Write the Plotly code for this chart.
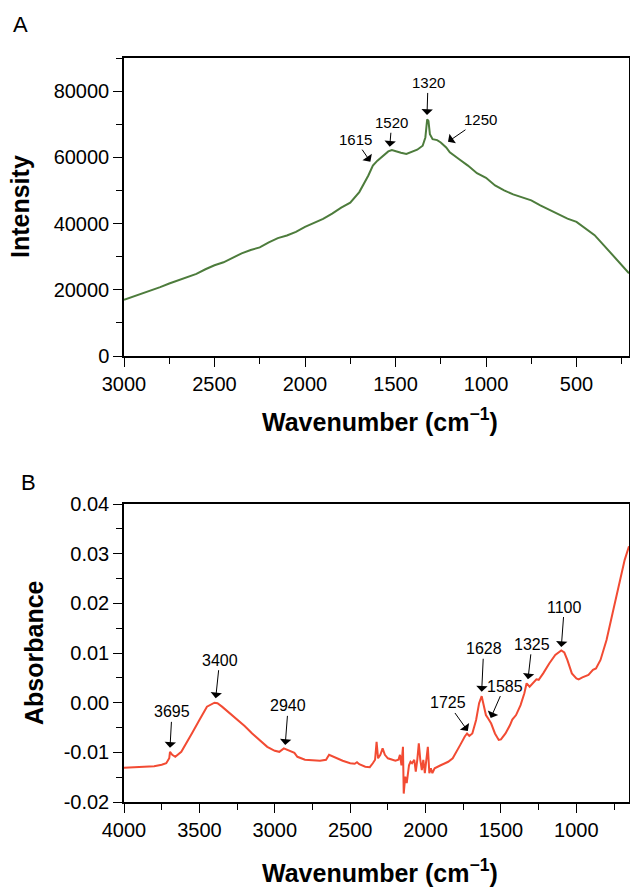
import plotly.graph_objects as go

# ---------------- Panel A: Raman ----------------
raman_wn = [3000, 2950, 2900, 2850, 2800, 2750, 2700, 2650, 2600, 2550, 2500, 2450, 2400,
            2350, 2300, 2250, 2200, 2150, 2100, 2050, 2000, 1950, 1900, 1850, 1800, 1750,
            1700, 1650, 1625, 1600, 1570, 1540, 1520, 1500, 1470, 1440, 1410, 1380, 1350,
            1335, 1325, 1318, 1310, 1295, 1270, 1250, 1220, 1200, 1150, 1100, 1050, 1000,
            950, 900, 850, 800, 750, 700, 650, 600, 550, 500, 450, 400, 350, 300, 250, 210]
raman_int = [17000, 17900, 18900, 19800, 20800, 21900, 22800, 23700, 24800, 26200, 27400,
             28300, 29600, 31000, 32000, 32800, 34300, 35600, 36400, 37500, 39000, 40200,
             41400, 43000, 44800, 46300, 49500, 54500, 57500, 59000, 60500, 61800, 62200,
             61800, 61400, 61000, 61600, 62300, 63500, 66000, 71500, 71000, 67000, 65500,
             65200, 64500, 63000, 61500, 59500, 57500, 55200, 53800, 51500, 50000, 48800,
             47800, 47000, 45500, 44200, 42800, 41500, 40500, 38500, 36500, 33500, 30500,
             27500, 25000]
raman_peak_labels = ["1615", "1520", "1320", "1250"]
raman_peak_x = [1639, 1532, 1326, 1210]
raman_peak_y = [58700, 63200, 72800, 64700]
raman_yticks = [0, 20000, 40000, 60000, 80000]
raman_xticks = [3000, 2500, 2000, 1500, 1000, 500]

# ---------------- Panel B: FTIR ----------------
ftir_wn = [4000, 3800, 3750, 3720, 3700, 3695, 3680, 3660, 3620, 3600, 3550, 3500, 3450,
           3400, 3380, 3350, 3300, 3250, 3220, 3200, 3150, 3100, 3050, 3000, 2970, 2940,
           2900, 2870, 2850, 2800, 2700, 2660, 2640, 2610, 2550, 2500, 2470, 2455, 2440,
           2400, 2370, 2350, 2335, 2325, 2315, 2300, 2285, 2270, 2250, 2230, 2200, 2180,
           2170, 2160, 2150, 2145, 2135, 2125, 2110, 2100, 2090, 2075, 2065, 2055, 2045,
           2035, 2025, 2015, 2005, 1995, 1985, 1975, 1965, 1955, 1940, 1900, 1850, 1820,
           1800, 1770, 1740, 1725, 1710, 1690, 1665, 1645, 1628, 1615, 1600, 1585, 1565,
           1540, 1515, 1500, 1470, 1440, 1425, 1400, 1370, 1345, 1330, 1310, 1290, 1265,
           1250, 1220, 1180, 1140, 1100, 1080, 1060, 1030, 1000, 985, 960, 920, 890, 870,
           840, 800, 760, 720, 680, 651]
ftir_abs = [-0.0131, -0.0128, -0.0125, -0.0122, -0.0112, -0.0099, -0.0105, -0.0109, -0.0099,
            -0.0089, -0.0062, -0.0035, -0.0008, 0.0000, -0.0001, -0.0008, -0.0021, -0.0035,
            -0.0042, -0.0047, -0.0062, -0.0075, -0.0089, -0.0097, -0.0099, -0.0092, -0.0097,
            -0.0101, -0.0109, -0.0115, -0.0117, -0.0115, -0.0105, -0.0109, -0.0117, -0.0122,
            -0.0123, -0.0120, -0.0124, -0.0129, -0.0130, -0.0122, -0.0115, -0.0079, -0.0112,
            -0.0105, -0.0092, -0.0105, -0.0112, -0.0114, -0.0117, -0.0115, -0.0105, -0.0126,
            -0.0089, -0.0183, -0.0149, -0.0162, -0.0126, -0.0119, -0.0122, -0.0115, -0.0139,
            -0.0115, -0.0082, -0.0115, -0.0136, -0.0115, -0.0142, -0.0115, -0.0089, -0.0142,
            -0.0132, -0.0142, -0.0132, -0.0126, -0.0119, -0.0112, -0.0102, -0.0085, -0.0068,
            -0.0062, -0.0067, -0.0062, -0.0035, -0.0001, 0.0013, -0.0008, -0.0025, -0.0032,
            -0.0042, -0.0062, -0.0075, -0.0074, -0.0062, -0.0045, -0.0034, -0.0025, -0.0005,
            0.0019, 0.0039, 0.0032, 0.0038, 0.0047, 0.0046, 0.0059, 0.0079, 0.0096, 0.0105,
            0.0101, 0.0086, 0.0059, 0.0049, 0.0047, 0.0051, 0.0056, 0.0066, 0.0069, 0.0086,
            0.0126, 0.0180, 0.0234, 0.0287, 0.0315]
ftir_peak_labels = ["3695", "3400", "2940", "1725", "1628", "1585", "1325", "1100"]
ftir_peak_x = [3695, 3392, 2931, 1720, 1628, 1568, 1321, 1100]
ftir_peak_y = [-0.0091, 0.0009, -0.0085, -0.0057, 0.0022, -0.0031, 0.0047, 0.0112]
ftir_yticks = [-0.02, -0.01, 0.00, 0.01, 0.02, 0.03, 0.04]
ftir_yticktext = ["-0.02", "-0.01", "0.00", "0.01", "0.02", "0.03", "0.04"]
ftir_xticks = [4000, 3500, 3000, 2500, 2000, 1500, 1000]

# ---------------- Figure ----------------
W, H = 630, 887
FONT = "Liberation Sans, Arial, sans-serif"
GREEN = "#4d7c3c"
RED = "#f24b33"

fig = go.Figure()
fig.add_trace(go.Scatter(x=raman_wn, y=raman_int, mode="lines",
                         line=dict(color=GREEN, width=2), xaxis="x", yaxis="y",
                         showlegend=False))
fig.add_trace(go.Scatter(x=ftir_wn, y=ftir_abs, mode="lines",
                         line=dict(color=RED, width=2), xaxis="x2", yaxis="y2",
                         showlegend=False))

xdom = [124 / W, 629 / W]
ydomA = [1 - 356 / H, 1 - 58 / H]
ydomB = [1 - 802 / H, 1 - 504 / H]

common = dict(showline=True, linecolor="black", linewidth=1.5, mirror=True,
              ticks="outside", ticklen=9, tickwidth=1.3, tickcolor="black",
              showgrid=False, zeroline=False, automargin=False,
              tickfont=dict(family=FONT, size=20, color="black"))

fig.update_layout(
    width=W, height=H,
    margin=dict(l=0, r=0, t=0, b=0),
    paper_bgcolor="white", plot_bgcolor="white",
    font=dict(family=FONT, color="black"),
    xaxis=dict(domain=xdom, anchor="y", range=[3000, 210], tickvals=raman_xticks,
               tickformat="d",
               minor=dict(dtick=250, tick0=0, ticks="outside", ticklen=6, tickcolor="black"),
               **common),
    yaxis=dict(domain=ydomA, anchor="x", range=[0, 90000], tickvals=raman_yticks,
               tickformat="d",
               minor=dict(dtick=10000, tick0=0, ticks="outside", ticklen=6, tickcolor="black"),
               **common),
    xaxis2=dict(domain=xdom, anchor="y2", range=[4000, 651], tickvals=ftir_xticks,
                tickformat="d",
                minor=dict(dtick=250, tick0=0, ticks="outside", ticklen=6, tickcolor="black"),
                **common),
    yaxis2=dict(domain=ydomB, anchor="x2", range=[-0.02, 0.04], tickvals=ftir_yticks,
                ticktext=ftir_yticktext,
                minor=dict(dtick=0.005, tick0=0, ticks="outside", ticklen=6, tickcolor="black"),
                **common),
)

annots = []


def label(text, x, y, size, angle=0):
    return dict(text=text, x=x / W, y=1 - y / H, xref="paper", yref="paper",
                xanchor="center", yanchor="middle", showarrow=False, textangle=angle,
                font=dict(family=FONT, size=size, color="black"))


annots.append(label("A", 20, 24, 22))
annots.append(label("B", 28, 482, 22))
annots.append(label("<b>Intensity</b>", 20, 207, 25, -90))
annots.append(label("<b>Absorbance</b>", 34, 653, 25, -90))
annots.append(label("<b>Wavenumber (cm<sup>−1</sup>)</b>", 380, 420, 25))
annots.append(label("<b>Wavenumber (cm<sup>−1</sup>)</b>", 380, 871, 25))

ramanoff = [(-15, -22), (2, -24), (1, -32), (32, -22)]
for lab, px, py, (ax, ay) in zip(raman_peak_labels, raman_peak_x, raman_peak_y, ramanoff):
    annots.append(dict(text=lab, x=px, y=py, xref="x", yref="y", ax=ax, ay=ay,
                       showarrow=True, arrowhead=1, arrowsize=1.9, arrowwidth=1,
                       arrowcolor="black", standoff=0, startstandoff=0,
                       font=dict(family=FONT, size=15, color="black")))
ftiroff = [(2, -36), (4, -38), (3, -39), (-20, -28), (2, -43), (14, -32), (4, -35), (3, -40)]
for lab, px, py, (ax, ay) in zip(ftir_peak_labels, ftir_peak_x, ftir_peak_y, ftiroff):
    annots.append(dict(text=lab, x=px, y=py, xref="x2", yref="y2", ax=ax, ay=ay,
                       showarrow=True, arrowhead=1, arrowsize=1.9, arrowwidth=1,
                       arrowcolor="black", standoff=0, startstandoff=0,
                       font=dict(family=FONT, size=16, color="black")))
fig.update_layout(annotations=annots)

fig.write_html("out.html", config={"displayModeBar": False},
               post_script="document.body.style.margin='0';document.body.style.overflow='hidden';")
